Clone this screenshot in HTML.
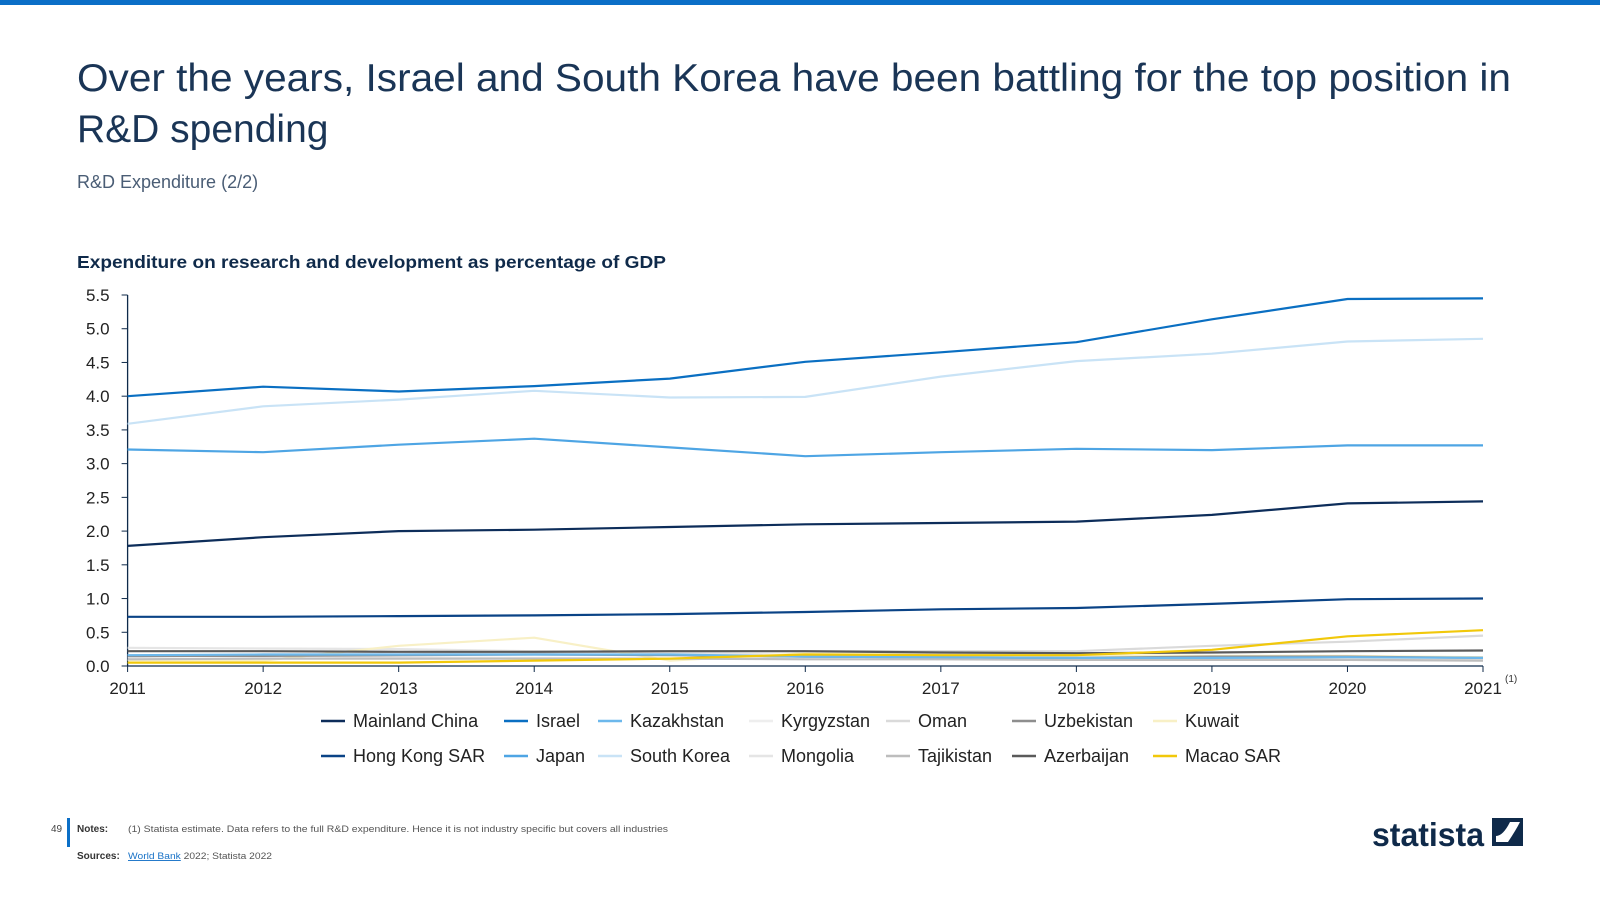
<!DOCTYPE html>
<html><head><meta charset="utf-8"><style>
html,body{margin:0;padding:0;background:#fff;width:1600px;height:900px;overflow:hidden}
svg{display:block;font-family:"Liberation Sans",sans-serif}
</style></head><body>
<svg id="chart" width="1600" height="900" viewBox="0 0 1600 900">
<rect x="0" y="0" width="1600" height="5" fill="#0b6fc7"/>
<text x="77" y="91" font-size="39" fill="#1a3556" textLength="1434" lengthAdjust="spacingAndGlyphs">Over the years, Israel and South Korea have been battling for the top position in</text>
<text x="77" y="142" font-size="39" fill="#1a3556">R&amp;D spending</text>
<text x="77" y="188" font-size="18" fill="#4a5d75">R&amp;D Expenditure (2/2)</text>
<text x="77" y="268" font-size="17.5" font-weight="bold" fill="#0f2a4a" textLength="589" lengthAdjust="spacingAndGlyphs">Expenditure on research and development as percentage of GDP</text>
<g id="axes"></g>
<g id="series"></g>
<g id="legend"></g>
<text x="1505" y="682" font-size="10" fill="#333">(1)</text>
<text x="51" y="832" font-size="10" fill="#444">49</text>
<rect x="67" y="818" width="3" height="29" fill="#0b6fc7"/>
<text x="77" y="832" font-size="10" font-weight="bold" fill="#333">Notes:</text>
<text x="128" y="832" font-size="9.5" fill="#555" textLength="540" lengthAdjust="spacingAndGlyphs">(1) Statista estimate. Data refers to the full R&amp;D expenditure. Hence it is not industry specific but covers all industries</text>
<text x="77" y="859" font-size="10" font-weight="bold" fill="#333">Sources:</text>
<text x="128" y="859" font-size="9.5" fill="#555" textLength="144" lengthAdjust="spacingAndGlyphs"><tspan fill="#1a73c7" text-decoration="underline">World Bank</tspan> 2022; Statista 2022</text>
<g>
<text x="1372" y="846" font-size="33" font-weight="bold" fill="#0f2a4a" textLength="112" lengthAdjust="spacingAndGlyphs">statista</text>
<rect x="1492" y="818" width="31" height="28" fill="#0f2a4a"/>
<path d="M1496 842 L1508 842 Q1516 830 1520 822 L1510 822 Q1503 836 1496 836 Z" fill="#fff"/>
</g>
</svg>
<script>
const years = [2011,2012,2013,2014,2015,2016,2017,2018,2019,2020,2021];
const yTicks = [0,0.5,1,1.5,2,2.5,3,3.5,4,4.5,5,5.5];
const yTickLabels = ["0.0","0.5","1.0","1.5","2.0","2.5","3.0","3.5","4.0","4.5","5.0","5.5"];
const seriesNames = ["Mainland China","Israel","Kazakhstan","Kyrgyzstan","Oman","Uzbekistan","Kuwait","Hong Kong SAR","Japan","South Korea","Mongolia","Tajikistan","Azerbaijan","Macao SAR"];
const mainlandChina = [1.78,1.91,2.00,2.02,2.06,2.10,2.12,2.14,2.24,2.41,2.44];
const israel = [4.00,4.14,4.07,4.15,4.26,4.51,4.65,4.80,5.14,5.44,5.45];
const kazakhstan = [0.16,0.17,0.17,0.17,0.17,0.14,0.13,0.12,0.12,0.13,0.12];
const kyrgyzstan = [0.16,0.16,0.13,0.12,0.11,0.12,0.10,0.10,0.09,0.09,0.08];
const oman = [0.13,0.17,0.17,0.20,0.22,0.22,0.22,0.22,0.30,0.36,0.45];
const uzbekistan = [0.15,0.15,0.16,0.17,0.16,0.14,0.13,0.12,0.14,0.14,0.12];
const kuwait = [0.09,0.08,0.30,0.42,0.08,0.19,0.17,0.16,0.15,0.15,0.13];
const hongKong = [0.73,0.73,0.74,0.75,0.77,0.80,0.84,0.86,0.92,0.99,1.00];
const japan = [3.21,3.17,3.28,3.37,3.24,3.11,3.17,3.22,3.20,3.27,3.27];
const southKorea = [3.59,3.85,3.95,4.08,3.98,3.99,4.29,4.52,4.63,4.81,4.85];
const mongolia = [0.27,0.26,0.25,0.22,0.20,0.16,0.13,0.10,0.10,0.10,0.10];
const tajikistan = [0.10,0.11,0.11,0.11,0.11,0.10,0.10,0.09,0.09,0.09,0.08];
const azerbaijan = [0.22,0.22,0.21,0.21,0.22,0.22,0.20,0.19,0.20,0.22,0.23];
const macao = [0.05,0.05,0.05,0.08,0.11,0.17,0.16,0.16,0.24,0.44,0.53];
const seriesValues = [mainlandChina,israel,kazakhstan,kyrgyzstan,oman,uzbekistan,kuwait,hongKong,japan,southKorea,mongolia,tajikistan,azerbaijan,macao];
const colors = ["#0d2d5a","#0a6fc2","#6cb8ec","#eeeeee","#dadada","#8e8e8e","#f8f0c6","#0a4386","#4ea5e4","#c9e3f6","#e5e5e5","#bdbdbd","#5a5a5a","#f1c80a"];

const NS="http://www.w3.org/2000/svg";
const X0=127.6,X1=1483,Y0=666,Y1=295,YMAX=5.5;
const xs=v=>X0+(v-years[0])/(years[years.length-1]-years[0])*(X1-X0);
const ys=v=>Y0-v/YMAX*(Y0-Y1);
function mk(tag,attrs,parent){const e=document.createElementNS(NS,tag);for(const k in attrs)e.setAttribute(k,attrs[k]);parent.appendChild(e);return e;}
const axes=document.getElementById('axes');
let yl=mk('line',{x1:X0,y1:Y1,x2:X0,y2:Y0,stroke:'#0f2a4a','stroke-width':1.3},axes);


let xl=mk('line',{x1:X0,y1:Y0,x2:X1,y2:Y0,stroke:'#0f2a4a','stroke-width':1.3},axes);


yTicks.forEach((t,i)=>{
  mk('line',{x1:X0-6,y1:ys(t),x2:X0,y2:ys(t),stroke:'#0f2a4a','stroke-width':1},axes);
  const tx=mk('text',{x:X0-18,y:ys(t)+6,'font-size':17,fill:'#222','text-anchor':'end'},axes);
  tx.textContent=yTickLabels[i];
  
  
});
years.forEach(yr=>{
  mk('line',{x1:xs(yr),y1:Y0,x2:xs(yr),y2:Y0+6,stroke:'#0f2a4a','stroke-width':1},axes);
  const tx=mk('text',{x:xs(yr),y:Y0+28,'font-size':17,fill:'#222','text-anchor':'middle'},axes);
  tx.textContent=yr;
  
  
});
const sg=document.getElementById('series');
const order=[3,10,4,6,11,5,2,12,13,7,0,8,9,1];
order.forEach(i=>{
  const pts=seriesValues[i].map((v,j)=>xs(years[j]).toFixed(1)+','+ys(v).toFixed(1)).join(' ');
  const p=mk('polyline',{points:pts,fill:'none',stroke:colors[i],'stroke-width':2.2,'stroke-linejoin':'round'},sg);
  
  
});
const lg=document.getElementById('legend');
const colX=[321,504,598,749,886,1012,1153];
const rowY=[721,756];
seriesNames.forEach((n,i)=>{
  const r=Math.floor(i/7),c=i%7;
  const g=mk('g',{},lg);
  
  
  mk('line',{x1:colX[c],y1:rowY[r],x2:colX[c]+24,y2:rowY[r],stroke:colors[i],'stroke-width':2.5},g);
  const t=mk('text',{x:colX[c]+32,y:rowY[r]+6,'font-size':18,fill:'#222'},g);
  t.textContent=n;
});
</script>
</body></html>
